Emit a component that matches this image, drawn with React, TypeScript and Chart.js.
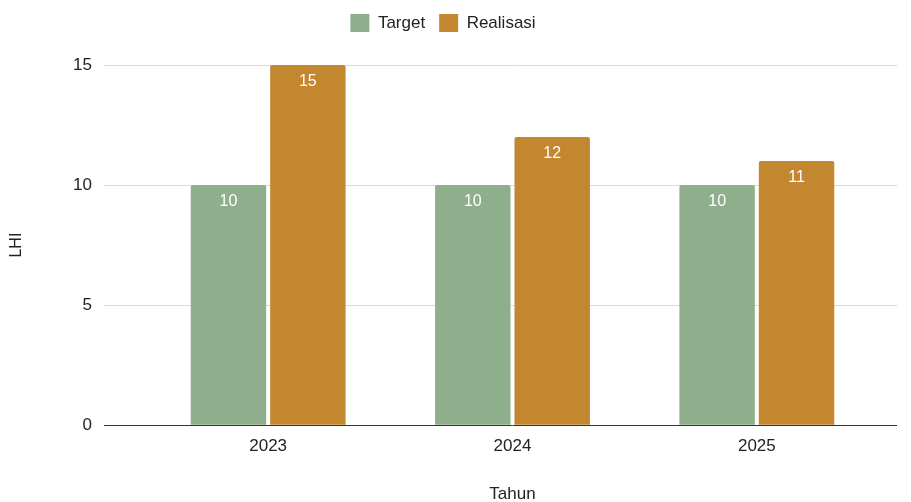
import React, { useEffect, useRef } from "react";
import { Chart, registerables } from "chart.js";

Chart.register(...registerables);

const categories = ["2023", "2024", "2025"];
const targetValues = [10, 10, 10];
const realisasiValues = [15, 12, 11];
const seriesNames = ["Target", "Realisasi"];
const yTitle = "LHI";
const xTitle = "Tahun";

const FONT = "'Liberation Sans', Arial, Helvetica, sans-serif";

const alignPx = (p: number) => Math.round(p - 0.5) + 0.5;

const valueLabels = {
  id: "valueLabels",
  afterDatasetsDraw(chart: any) {
    const ctx = chart.ctx;
    ctx.save();
    ctx.fillStyle = "#ffffff";
    ctx.font = `16px ${FONT}`;
    ctx.textAlign = "center";
    ctx.textBaseline = "middle";
    chart.data.datasets.forEach((ds: any, i: number) => {
      const meta = chart.getDatasetMeta(i);
      meta.data.forEach((bar: any, j: number) => {
        ctx.fillText(String(ds.data[j]), bar.x, bar.y + 17);
      });
    });
    ctx.restore();
  },
};

const gridExtend = {
  id: "gridExtend",
  beforeDatasetsDraw(chart: any) {
    const ctx = chart.ctx;
    const y = chart.scales.y;
    const area = chart.chartArea;
    ctx.save();
    y.ticks.forEach((t: any) => {
      const py = alignPx(y.getPixelForValue(t.value));
      ctx.strokeStyle = t.value === 0 ? "#333333" : "#d9d9d9";
      ctx.lineWidth = 1;
      ctx.beginPath();
      ctx.moveTo(area.right, py);
      ctx.lineTo(area.right + 18, py);
      ctx.stroke();
    });
    ctx.restore();
  },
};

const legendMargin = {
  id: "legendMargin",
  beforeInit(chart: any) {
    const legend = chart.legend;
    if (!legend) return;
    const fit = legend.fit;
    legend.fit = function () {
      fit.bind(legend)();
      this.height += 23;
    };
  },
};

export default function App() {
  const ref = useRef<HTMLCanvasElement>(null);
  useEffect(() => {
    if (!ref.current) return;
    const chart = new Chart(ref.current, {
      type: "bar",
      data: {
        labels: categories,
        datasets: [
          {
            label: seriesNames[0],
            data: targetValues,
            backgroundColor: "#8fae8c",
            borderRadius: 2,
            borderSkipped: "bottom",
          },
          {
            label: seriesNames[1],
            data: realisasiValues,
            backgroundColor: "#c2872f",
            borderRadius: 2,
            borderSkipped: "bottom",
          },
        ],
      },
      options: {
        animation: false,
        responsive: true,
        maintainAspectRatio: false,
        layout: { padding: { top: 0, right: 32, left: 7, bottom: -3 } },
        datasets: {
          bar: { categoryPercentage: 0.65, barPercentage: 0.95 },
        },
        plugins: {
          legend: {
            position: "top",
            labels: {
              boxWidth: 19,
              boxHeight: 18,
              padding: 14,
              color: "#222222",
              font: { family: FONT, size: 17 },
            },
          },
          tooltip: { enabled: false },
        },
        scales: {
          x: {
            grid: { display: false, drawTicks: false },
            border: { display: false },
            ticks: { color: "#222222", font: { family: FONT, size: 17 }, padding: 11 },
            title: {
              display: true,
              text: xTitle,
              color: "#222222",
              font: { family: FONT, size: 17 },
              padding: { top: 17, bottom: 0 },
            },
          },
          y: {
            min: 0,
            max: 15,
            ticks: {
              stepSize: 5,
              color: "#222222",
              font: { family: FONT, size: 17 },
              padding: 12,
            },
            grid: {
              color: (c: any) => (c.tick && c.tick.value === 0 ? "#333333" : "#d9d9d9"),
              tickLength: 42,
              tickColor: (c: any) => (c.tick && c.tick.value === 0 ? "#333333" : "#d9d9d9"),
            },
            border: { display: false },
            title: {
              display: true,
              text: yTitle,
              color: "#222222",
              font: { family: FONT, size: 16 },
              padding: { top: 0, bottom: 20 },
            },
            afterFit: (scale: any) => {
              scale.width = 139;
            },
          },
        },
      },
      plugins: [valueLabels, gridExtend, legendMargin],
    });
    return () => chart.destroy();
  }, []);
  return (
    <div style={{ position: "absolute", left: 0, top: 0, width: 911, height: 502, background: "#fff" }}>
      <canvas ref={ref} />
    </div>
  );
}
